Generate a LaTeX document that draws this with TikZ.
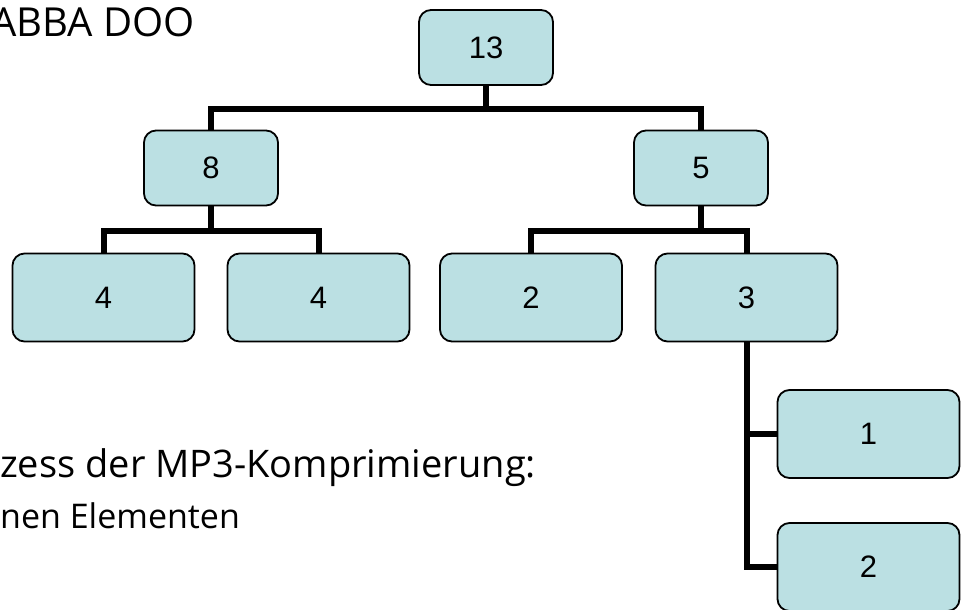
\documentclass[tikz,border=0pt]{standalone}
\usepackage{fontspec}
\setmainfont{Open Sans}
\newfontfamily\boxfont{Liberation Sans}
\usetikzlibrary{positioning}

\definecolor{boxcyan}{RGB}{187,224,227}

\begin{document}
\begin{tikzpicture}[x=1pt,y=-1pt,
  huffbox/.style={draw=black,line width=1.8pt,fill=boxcyan,rounded corners=12pt,inner sep=0pt,
    font=\boxfont\fontsize{31}{36}\selectfont},
  smallbox/.style={huffbox,minimum width=134pt,minimum height=75pt},
  bigbox/.style={huffbox,minimum width=182pt,minimum height=88pt},
  branch/.style={line width=6pt}]
\useasboundingbox (0,0) rectangle (966,610);
\clip (0,0) rectangle (966,610);

% texts on the slide
\node[anchor=base east,inner sep=0pt,font=\fontsize{40}{48}\selectfont] (title) at (195,37) {ABBA DOO};
\node[anchor=base west,inner sep=0pt,font=\fontsize{38}{46}\selectfont] (line1) at (0,477) {zess der MP3-Komprimierung:};
\node[anchor=base west,inner sep=0pt,font=\fontsize{34}{40}\selectfont] (line2) at (0,528) {nen Elementen};

% tree
\node[smallbox] (n13) at (486,47.5) {13};
\node[smallbox] (n8) at (211,168) {8};
\node[smallbox] (n5) at (701,168) {5};
\node[bigbox] (n4a) at (103.5,297.5) {4};
\node[bigbox] (n4b) at (318.5,297.5) {4};
\node[bigbox] (n2a) at (531,297.5) {2};
\node[bigbox] (n3) at (746.5,297.5) {3};
\node[bigbox] (n1) at (868.5,434) {1};
\node[bigbox] (n2b) at (868.5,567) {2};

\draw[branch] (n13.south) -- ++(0,24);
\draw[branch] (n8.north) -- ++(0,-21) -| (n5.north);
\draw[branch] (n8.south) -- ++(0,25);
\draw[branch] (n4a.north) -- ++(0,-22) -| (n4b.north);
\draw[branch] (n5.south) -- ++(0,25);
\draw[branch] (n2a.north) -- ++(0,-22) -| (n3.north);
\draw[branch] (n3.south) |- (n1.west);
\draw[branch] (n3.south) |- (n2b.west);

\end{tikzpicture}
\end{document}
